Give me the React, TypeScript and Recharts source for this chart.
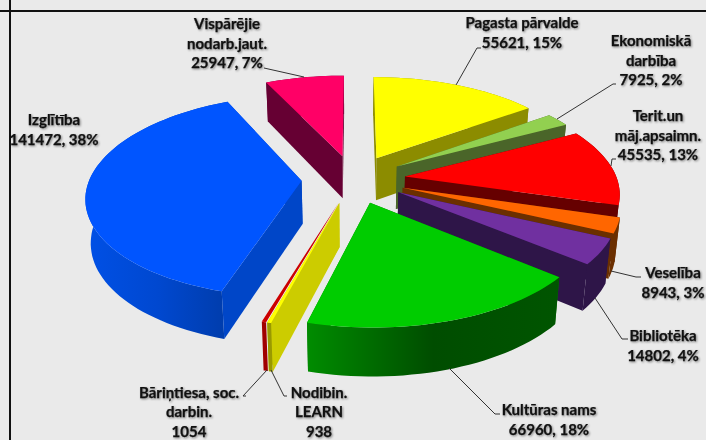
import React from 'react';
import { PieChart, Pie } from 'recharts';

// dati no attēla
const categories = [
  ['Pagasta pārvalde'],
  ['Ekonomiskā', 'darbība'],
  ['Terit.un', 'māj.apsaimn.'],
  ['Veselība'],
  ['Bibliotēka'],
  ['Kultūras nams'],
  ['Nodibin.', 'LEARN'],
  ['Bāriņtiesa, soc.', 'darbin.'],
  ['Izglītība'],
  ['Vispārējie', 'nodarb.jaut.'],
];
const values = [55621, 7925, 45535, 8943, 14802, 66960, 938, 1054, 141472, 25947];
const percents = ['15%', '2%', '13%', '3%', '4%', '18%', '', '', '38%', '7%'];

// krāsas
const topColors = ['#FFFF00', '#92D050', '#FF0000', '#FF6600', '#7030A0', '#00CC00', '#FFFF00', '#CC0000', '#0055FF', '#FF0066'];
const sideColors = ['#8C8C00', '#4A6529', '#660000', '#6B2F00', '#2E1548', '#007A00', '#CCCC00', '#A00000', '#0046C8', '#660033'];
const outerStops = [
  ['#8C8C00', '#8C8C00'],
  ['#4A6529', '#4A6529'],
  ['#660000', '#660000'],
  ['#6B2F00', '#6B2F00'],
  ['#2E1548', '#2E1548'],
  ['#008C00', '#004D00', '#005500'],
  ['#999900', '#999900'],
  ['#A00000', '#A00000'],
  ['#0050E6', '#0048D0', '#003CAA'],
  ['#660033', '#660033'],
];

// uzrakstu izkārtojums: teksta centrs + vadlīnija
const labelPos = [
  { x: 522, y: 22 },
  { x: 651, y: 40 },
  { x: 658, y: 115 },
  { x: 673, y: 272 },
  { x: 663, y: 335 },
  { x: 549, y: 409 },
  { x: 319, y: 391.5 },
  { x: 189, y: 391.5 },
  { x: 54, y: 119 },
  { x: 227, y: 23 },
];
const leaders = [
  '481,48 477,48 456,85',
  '616,84 613,84 557,119',
  '616,159 612,159 611,166',
  '641,277 636,277 611,271',
  '628,339 622,339 595,298',
  '500,414 495,414 449,368',
  '287,396 284,396 271,370',
  '246,396 243,396 267,370',
  '',
  '264,68 304,77',
];

const EXPLODE = 0.245;
const RX = 212;
const RY = 98.6;
const PERSP = 0.147;
const DEPTH = 43;
const SHRINK = 0.02;
// Bāriņtiesa: radiālās sienas ir aiz kaimiņa, tās nezīmē
const NO_RADIAL_WALLS = 7;

// 3D projekcija: (x, y) plaknē, z = 0 virspuse, z = 1 apakša
function project(cx: number, cy: number, x: number, y: number, z: number) {
  const s = 1 / (1 - PERSP * y);
  const px = cx + RX * x * s * (1 - SHRINK * z);
  const py = cy + RY * y * s + z * DEPTH * Math.pow(s, 0.65);
  return [px, py];
}

const toPath = (pts: number[][]) =>
  pts.map((p, i) => `${i ? 'L' : 'M'}${p[0].toFixed(1)} ${p[1].toFixed(1)}`).join(' ') + ' Z';

function Slice3D(props: any) {
  const { cx, cy, startAngle, endAngle, index } = props;
  const t0 = ((90 - startAngle) * Math.PI) / 180;
  const t1 = ((90 - endAngle) * Math.PI) / 180;
  const mid = (t0 + t1) / 2;
  const ox = Math.sin(mid) * EXPLODE;
  const oy = -Math.cos(mid) * EXPLODE;

  const steps = Math.max(4, Math.ceil(((t1 - t0) * 180) / Math.PI / 2));
  const arc: number[][] = [];
  for (let i = 0; i <= steps; i++) {
    const t = t0 + ((t1 - t0) * i) / steps;
    arc.push([ox + Math.sin(t), oy - Math.cos(t)]);
  }
  const top = (p: number[]) => project(cx, cy, p[0], p[1], 0);
  const bot = (p: number[]) => project(cx, cy, p[0], p[1], 1);
  const apex = [ox, oy];

  const topFace = [top(apex), ...arc.map(top)];
  const wallA = [top(apex), top(arc[0]), bot(arc[0]), bot(apex)];
  const wallB = [top(apex), top(arc[steps]), bot(arc[steps]), bot(apex)];
  const wallOuter = [...arc.map(top), ...arc.slice().reverse().map(bot)];

  const xs = wallOuter.map((p) => p[0]);
  const stops = outerStops[index];
  const gradId = `outer-${index}`;
  const meanY = (pts: number[][]) => pts.reduce((a, p) => a + p[1], 0) / pts.length;

  const radial = index === NO_RADIAL_WALLS ? [] : [
    { pts: wallA, fill: sideColors[index] },
    { pts: wallB, fill: sideColors[index] },
  ];
  const walls = [...radial, { pts: wallOuter, fill: `url(#${gradId})` }].sort((a, b) => meanY(a.pts) - meanY(b.pts));

  return (
    <g>
      <defs>
        <linearGradient id={gradId} gradientUnits="userSpaceOnUse" x1={Math.min(...xs)} x2={Math.max(...xs)} y1={0} y2={0}>
          {stops.map((c, i) => (
            <stop key={i} offset={i / (stops.length - 1)} stopColor={c} />
          ))}
        </linearGradient>
      </defs>
      {walls.map((w, i) => (
        <path key={i} d={toPath(w.pts)} fill={w.fill} />
      ))}
      <path d={toPath(topFace)} fill={topColors[index]} />
    </g>
  );
}

function renderLabel(props: any) {
  const { index } = props;
  const pos = labelPos[index];
  const value = values[index];
  const lines = [...categories[index], percents[index] ? `${value}, ${percents[index]}` : `${value}`];
  return (
    <g key={index}>
      {leaders[index] && <polyline points={leaders[index]} fill="none" stroke="#333333" strokeWidth={1} />}
      <text
        textAnchor="middle"
        fontFamily="Lato, sans-serif"
        fontWeight={700}
        fontSize={15}
        fill="#111111"
        stroke="#111111"
        strokeWidth={0.25}
        style={{ filter: 'drop-shadow(1px 1px 1px rgba(0,0,0,0.45))' }}
      >
        {lines.map((line, i) => (
          <tspan key={i} x={pos.x} y={pos.y + i * 19.6} dominantBaseline="central">
            {line}
          </tspan>
        ))}
      </text>
    </g>
  );
}

const chartData = categories.map((c, i) => ({ name: c.join(' '), value: values[i] }));

export default function App() {
  return (
    <div style={{ position: 'absolute', left: 0, top: 0, width: 706, height: 440, background: '#EAEAEA', overflow: 'hidden' }}>
      <div style={{ position: 'absolute', left: 0, top: 10, width: 706, height: 2, background: '#111' }} />
      <div style={{ position: 'absolute', left: 9, top: 0, width: 2, height: 440, background: '#111' }} />
      <PieChart width={706} height={440} margin={{ top: 0, right: 0, bottom: 0, left: 0 }}>
        <Pie
          data={chartData}
          dataKey="value"
          cx={353.5}
          cy={179}
          outerRadius={100}
          startAngle={90}
          endAngle={-270}
          stroke="none"
          shape={Slice3D}
          label={renderLabel}
          labelLine={false}
          isAnimationActive={false}
        />
      </PieChart>
    </div>
  );
}
